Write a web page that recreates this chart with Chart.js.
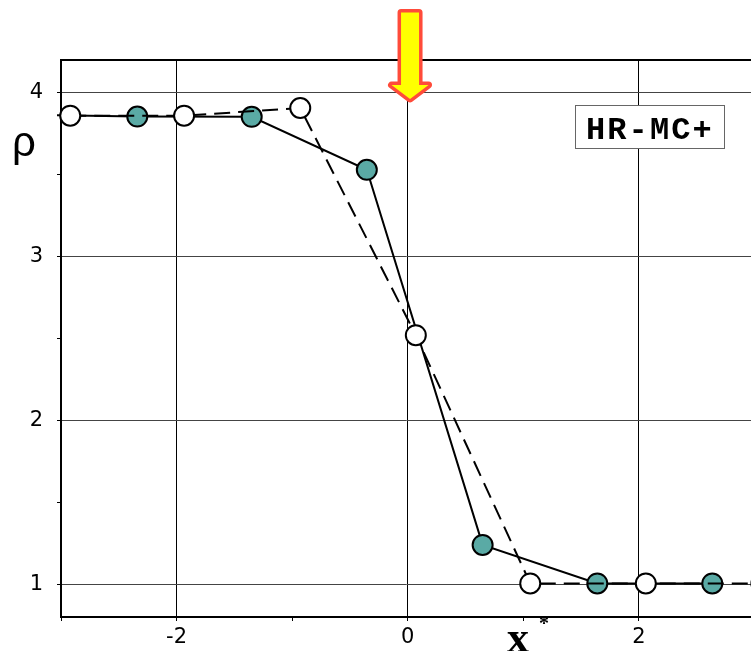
<!DOCTYPE html>
<html><head><meta charset="utf-8">
<script src="https://cdn.jsdelivr.net/npm/chart.js@4.4.1/dist/chart.umd.min.js"></script>
<style>html,body{margin:0;padding:0;background:#fff;overflow:hidden}</style>
</head><body>
<canvas id="c" width="751" height="651"></canvas>
<script>
// Filled (teal) markers, solid line
const filledX = [-3.34, -2.34, -1.35, -0.354, 0.648, 1.64, 2.635];
const filledY = [3.866, 3.855, 3.853, 3.53, 1.24, 1.005, 1.005];
// Open (white) markers, dashed line
const openX = [-2.92, -1.935, -0.93, 0.07, 1.06, 2.06, 3.06];
const openY = [3.86, 3.86, 3.907, 2.52, 1.005, 1.005, 1.005];
// Tick labels
const xTickLabels = [-2, 0, 2];
const yTickLabels = [1, 2, 3, 4];
const boxLabel = 'HR-MC+';
const yTitle = 'ρ';
const xTitle = 'x';
const xTitleSup = '*';
const markerX = 0.02;

const deco = {
  id: 'deco',
  afterDraw(chart) {
    const {ctx, chartArea: a, scales: {x}} = chart;
    ctx.save();
    // top frame line
    ctx.strokeStyle = '#000'; ctx.lineWidth = 2;
    ctx.beginPath(); ctx.moveTo(a.left - 1, a.top); ctx.lineTo(a.right, a.top); ctx.stroke();
    // label box
    ctx.fillStyle = '#fff'; ctx.fillRect(575, 105, 149, 43);
    ctx.strokeStyle = '#666'; ctx.lineWidth = 1;
    ctx.strokeRect(575.5, 105.5, 149, 43);
    ctx.fillStyle = '#000';
    ctx.font = 'bold 32px "Liberation Mono"';
    ctx.textAlign = 'left'; ctx.textBaseline = 'alphabetic';
    for (let i = 0; i < boxLabel.length; i++) ctx.fillText(boxLabel[i], 586 + i * 21.3, 139);
    // y title
    ctx.font = '42px "Liberation Sans"'; ctx.textAlign = 'center';
    ctx.fillText(yTitle, 24, 156);
    // x title
    ctx.font = 'bold 44px "Liberation Serif"'; ctx.textAlign = 'left';
    ctx.fillText(xTitle, 507, 652);
    ctx.font = 'bold 20px "Liberation Serif"';
    ctx.fillText(xTitleSup, 539, 630);
    // arrow
    const cx = x.getPixelForValue(markerX);
    const tip = a.top + 39;
    ctx.beginPath();
    ctx.moveTo(cx - 9, 12.5); ctx.lineTo(cx + 9, 12.5); ctx.lineTo(cx + 9, tip - 14);
    ctx.lineTo(cx + 18.5, tip - 14); ctx.lineTo(cx, tip); ctx.lineTo(cx - 18.5, tip - 14);
    ctx.lineTo(cx - 9, tip - 14); ctx.closePath();
    ctx.fillStyle = '#ffff00'; ctx.fill();
    ctx.strokeStyle = '#ff4b3a'; ctx.lineWidth = 7; ctx.lineJoin = 'round'; ctx.stroke();
    ctx.fill();
    ctx.restore();
  }
};

const tickFont = {family: 'DejaVu Sans', size: 21};

new Chart(document.getElementById('c'), {
  type: 'scatter',
  data: {
    datasets: [
      {
        label: 'open',
        data: openX.map((v, i) => ({x: v, y: openY[i]})),
        showLine: true, tension: 0,
        borderColor: '#000', borderWidth: 2, borderDash: [16, 8],
        pointRadius: 10, pointHoverRadius: 10,
        pointBackgroundColor: '#fff', pointBorderColor: '#000', pointBorderWidth: 2,
        clip: {left: 4, top: 4, right: 0, bottom: 4}
      },
      {
        label: 'filled',
        data: filledX.map((v, i) => ({x: v, y: filledY[i]})),
        showLine: true, tension: 0,
        borderColor: '#000', borderWidth: 2,
        pointRadius: 10, pointHoverRadius: 10,
        pointBackgroundColor: '#5aaaa5', pointBorderColor: '#000', pointBorderWidth: 2,
        clip: {left: 4, top: 4, right: 0, bottom: 4}
      }
    ]
  },
  options: {
    responsive: false, animation: false, devicePixelRatio: 1,
    layout: {autoPadding: false, padding: {top: 60, left: 0, right: 0, bottom: 0}},
    plugins: {legend: {display: false}, tooltip: {enabled: false}},
    scales: {
      x: {
        type: 'linear', min: -3, max: 2.97,
        ticks: {stepSize: 1, includeBounds: false, autoSkip: false, maxRotation: 0,
          font: tickFont, color: '#000', padding: 4,
          callback: v => xTickLabels.includes(v) ? String(v) : ''},
        grid: {color: c => (c.tick && xTickLabels.includes(c.tick.value)) ? '#000' : 'rgba(0,0,0,0)',
          tickColor: '#000', tickLength: 4, lineWidth: 1},
        border: {display: true, color: '#000', width: 2},
        afterFit(s) { s.height = 34; s.paddingLeft = 0; s.paddingRight = 0; }
      },
      y: {
        type: 'linear', min: 0.8, max: 4.2,
        ticks: {stepSize: 0.5, includeBounds: false, autoSkip: false,
          font: tickFont, color: '#000', padding: 14,
          callback: v => yTickLabels.includes(v) ? String(v) : ''},
        grid: {color: c => (c.tick && yTickLabels.includes(c.tick.value)) ? '#444' : 'rgba(0,0,0,0)',
          tickColor: '#000', tickLength: 4, lineWidth: 1},
        border: {display: true, color: '#000', width: 2},
        afterFit(s) { s.width = 61; s.paddingTop = 0; s.paddingBottom = 0; }
      }
    }
  },
  plugins: [deco]
});
</script>
</body></html>
